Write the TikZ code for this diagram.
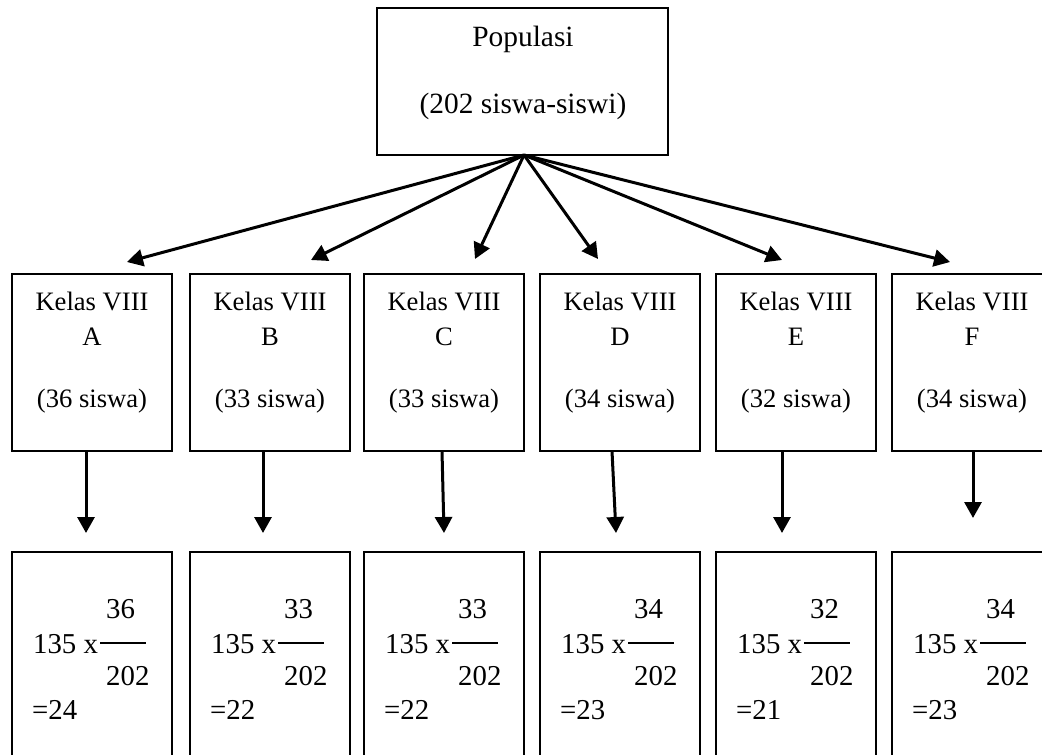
\documentclass[tikz,border=0pt]{standalone}
\usepackage{fontspec}
\setmainfont{Liberation Serif}
\usetikzlibrary{arrows.meta,calc}
\begin{document}
\begin{tikzpicture}[x=1pt,y=-1pt,
  box/.style={draw, line width=2.2pt, inner sep=0pt, outer sep=0pt, minimum width=160pt},
  arr/.style={line width=3pt, -{Triangle[length=16pt,width=17pt]}},
  toptext/.style={inner sep=0pt, anchor=base, font=\fontsize{29.4}{34}\selectfont},
  clstext/.style={inner sep=0pt, anchor=base, font=\fontsize{26.6}{31}\selectfont},
  restext/.style={inner sep=0pt, anchor=base west, font=\fontsize{28.8}{33}\selectfont},
  fracbar/.style={line width=2.2pt}]
\useasboundingbox (0,0) rectangle (1042,755);
\clip (0,0) rectangle (1042,755);
% top box
\node[box, minimum width=291pt, minimum height=147pt] (pop) at (522.5,81.5) {};
\node[toptext] (popa) at (523,46) {Populasi};
\node[toptext] (popb) at (523,113) {(202 siswa-siswi)};
\coordinate (src) at (524,155);
\foreach \n/\l/\s/\r/\tx/\ty/\ax/\bx/\ey in {
  A/12/36/24/127/262/86/86/533,
  B/190/33/22/311/260/263/263/533,
  C/364/33/22/475/259/442/444/533,
  D/540/34/23/598/259/612/616/533,
  E/716/32/21/782/260/782/782/533,
  F/892/34/23/950/262/973/973/518}{
  % class box
  \node[box, minimum height=177pt] (\n) at (\l+80,362.5) {};
  \node[clstext] (k\n) at (\l+80,310) {Kelas VIII};
  \node[clstext] (l\n) at (\l+80,345) {\n};
  \node[clstext] (n\n) at (\l+80,407) {(\s\ siswa)};
  \coordinate (t\n) at (\tx,\ty);
  \draw[arr] (src) -- (t\n);
  % result box
  \node[box, minimum height=248pt] (r\n) at (\l+80,676) {};
  \node[restext] (ra\n) at (\l+21,653) {135 x};
  \node[restext] (rn\n) at (\l+94,618) {\s};
  \node[restext] (rd\n) at (\l+94,685) {202};
  \node[restext] (re\n) at (\l+20,719) {=\r};
  \coordinate (fa\n) at (\l+88,643);
  \coordinate (fb\n) at (\l+134,643);
  \draw[fracbar] (fa\n) -- (fb\n);
  % vertical arrow
  \coordinate (s\n) at (\ax,451);
  \coordinate (e\n) at (\bx,\ey);
  \draw[arr] (s\n) -- (e\n);
}
\end{tikzpicture}
\end{document}
